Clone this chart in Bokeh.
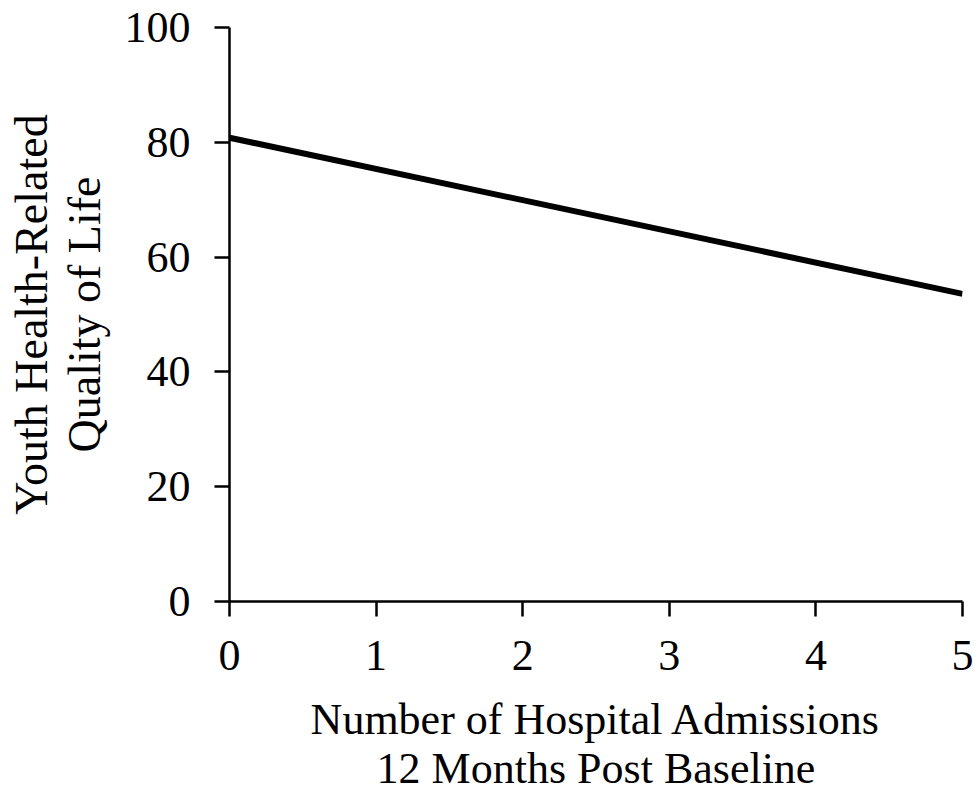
from bokeh.plotting import figure
from bokeh.models import Range1d, FixedTicker
from bokeh.embed import file_html
from bokeh.resources import INLINE

admissions = [0, 5]
hrqol = [80.8, 53.6]
x_ticks = [0, 1, 2, 3, 4, 5]
y_ticks = [0, 20, 40, 60, 80, 100]

W, H = 979, 800
p = figure(width=W, height=H, output_backend="svg", toolbar_location=None,
           x_range=Range1d(0, 5), y_range=Range1d(0, 100),
           min_border_left=229, min_border_top=27,
           min_border_right=W - 962, min_border_bottom=H - 601)
p.line(admissions, hrqol, line_width=6, line_color="black")

FONT = "Liberation Serif"
p.grid.visible = False
p.outline_line_color = None
for ax in (p.xaxis, p.yaxis):
    ax.axis_line_width = 2.5
    ax.axis_line_color = "black"
    ax.major_tick_line_width = 2.5
    ax.major_tick_line_color = "black"
    ax.major_tick_in = 0
    ax.major_tick_out = 15
    ax.minor_tick_line_color = None
    ax.major_label_text_font = FONT
    ax.major_label_text_font_size = "44px"
    ax.major_label_text_color = "black"
    ax.axis_label_text_font = FONT
    ax.axis_label_text_font_style = "normal"
    ax.axis_label_text_color = "black"

p.xaxis.axis_label_text_font_size = "44px"
p.yaxis.axis_label_text_font_size = "46px"
p.xaxis.axis_label_text_line_height = 1.02
p.yaxis.axis_label_text_line_height = 1.03

p.xaxis.ticker = FixedTicker(ticks=x_ticks)
p.yaxis.ticker = FixedTicker(ticks=y_ticks)
p.xaxis.major_label_standoff = 24
p.yaxis.major_label_standoff = 24
p.xaxis.axis_label = "Number of Hospital Admissions\n12 Months Post Baseline"
p.yaxis.axis_label = "Youth Health-Related\nQuality of Life"
p.xaxis.axis_label_standoff = 22
p.yaxis.axis_label_standoff = 12

open("out.html", "w").write(file_html(p, INLINE))
